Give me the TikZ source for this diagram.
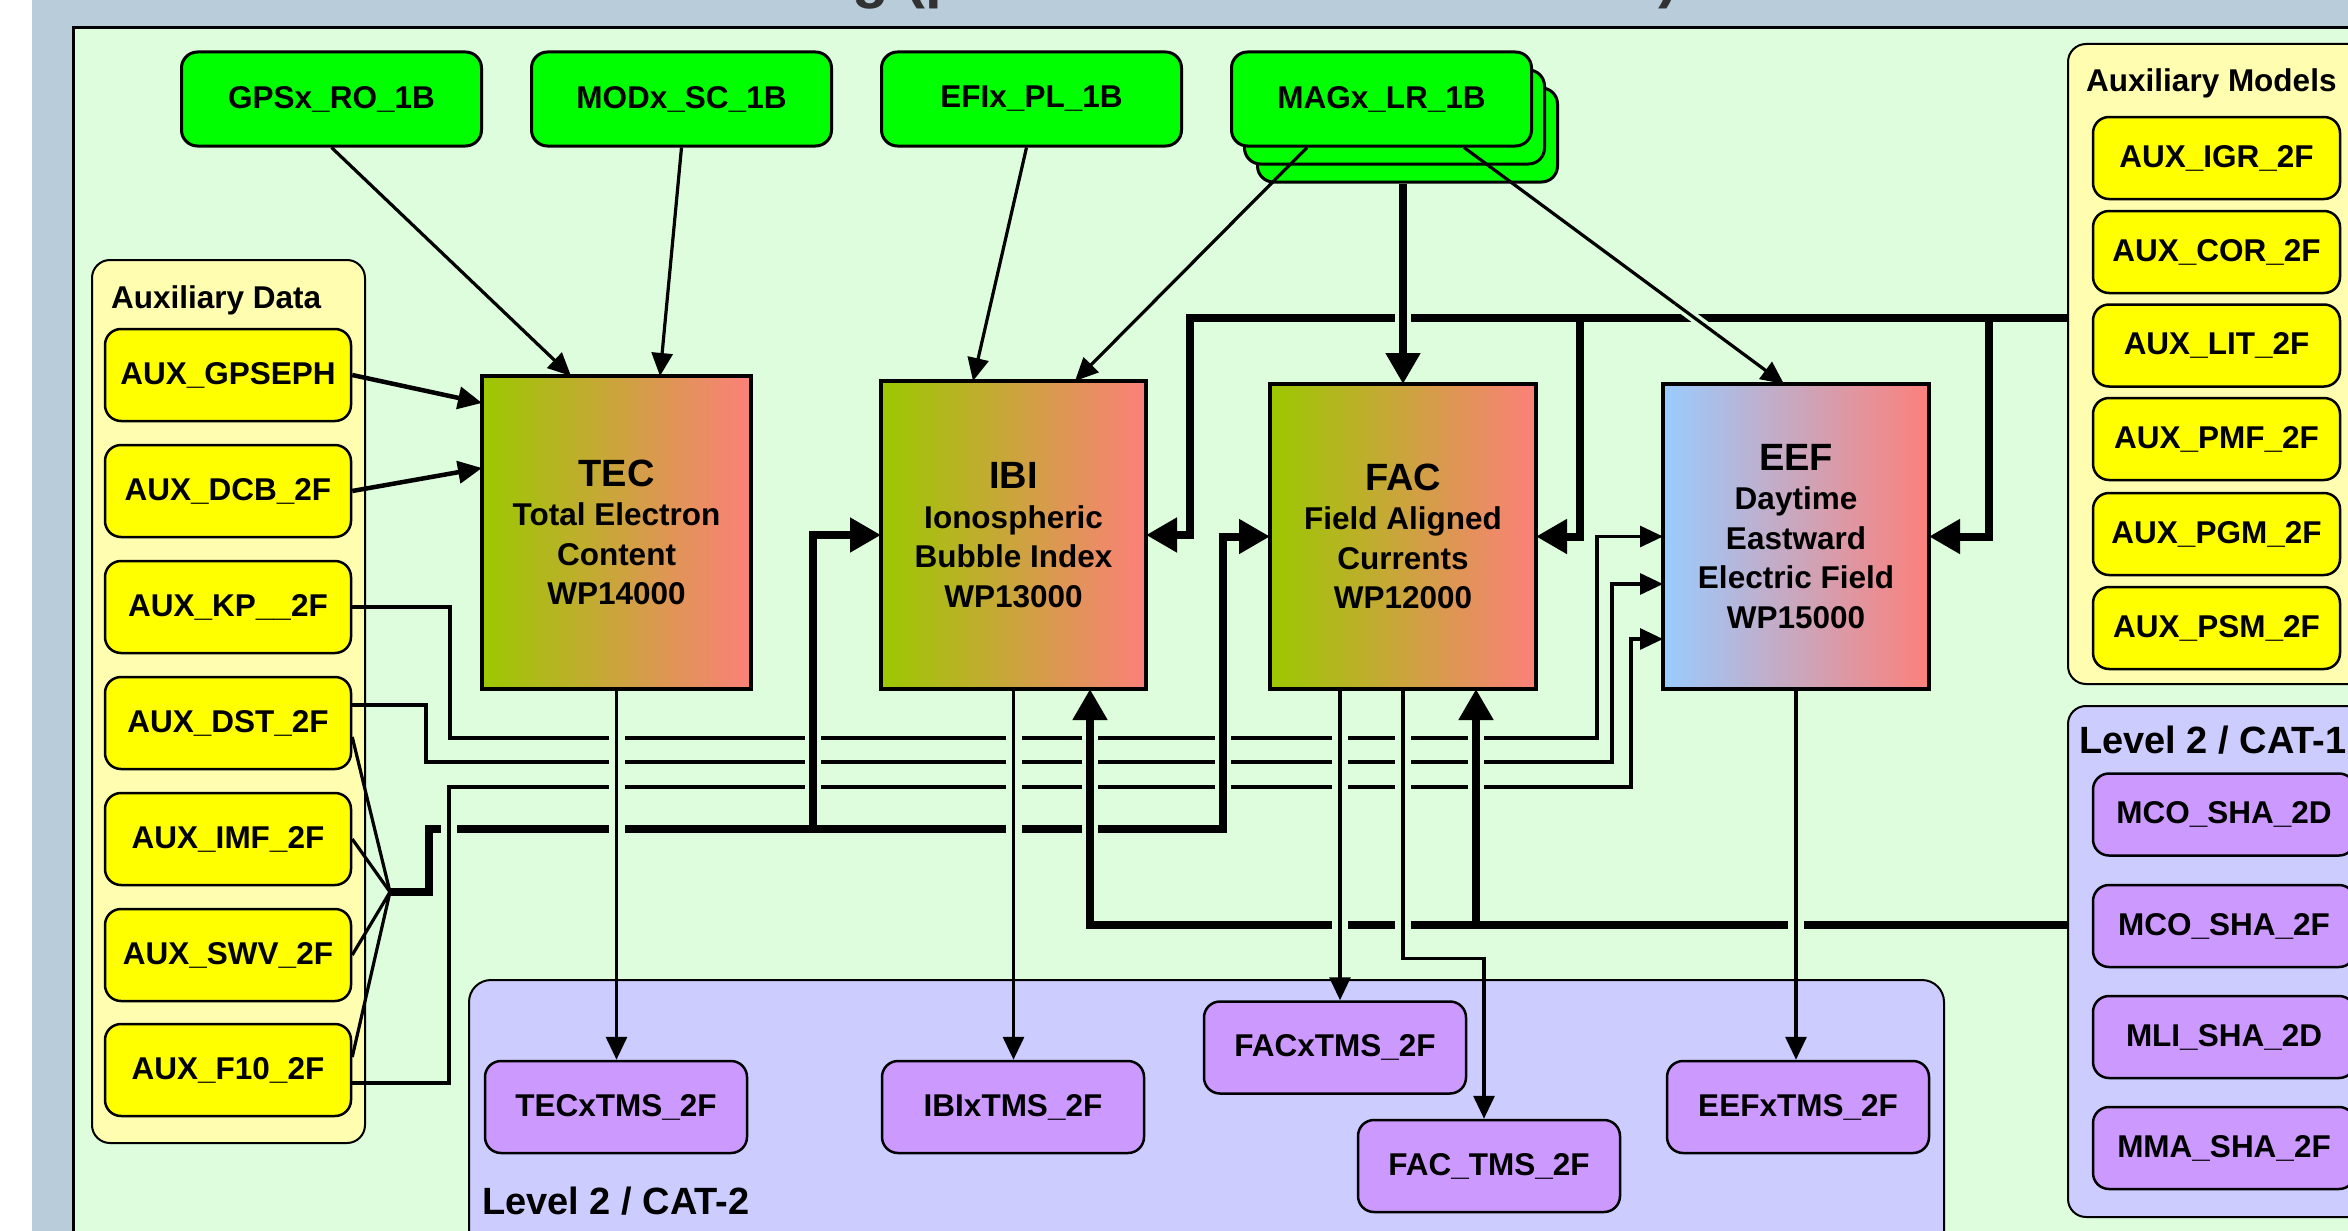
\documentclass[tikz,border=0pt]{standalone}
\usepackage{fontspec}
\setmainfont{Liberation Sans}
\usetikzlibrary{arrows.meta,calc}
\definecolor{bgblue}{RGB}{184,204,218}
\definecolor{bggreen}{RGB}{221,253,221}
\definecolor{boxgreen}{RGB}{0,255,0}
\definecolor{boxyellow}{RGB}{255,255,0}
\definecolor{panelyellow}{RGB}{255,253,176}
\definecolor{panellav}{RGB}{204,204,255}
\definecolor{boxpurple}{RGB}{204,153,255}
\definecolor{gradgreen}{RGB}{155,200,0}
\definecolor{gradred}{RGB}{252,128,122}
\definecolor{gradblue}{RGB}{153,204,255}
\definecolor{titlegray}{RGB}{50,50,50}
\newcommand\mylbl{\bfseries\fontsize{31.5}{36}\selectfont}
\newcommand\mycat{\bfseries\fontsize{38}{40}\selectfont}
\newcommand\myproc{\bfseries\fontsize{31.5}{39.5}\selectfont}
\newcommand\myptitle{\fontsize{38}{39.5}\selectfont}
\begin{document}
\begin{tikzpicture}[x=1pt,y=-1pt,
  rbox/.style={draw=black, line width=3pt, rounded corners=16pt, inner sep=0pt, font=\mylbl},
  gbox/.style={rbox, fill=boxgreen, minimum width=300pt, minimum height=94pt},
  ybox/.style={rbox, line width=2.5pt, fill=boxyellow, minimum width=246pt, minimum height=92pt},
  mbox/.style={rbox, line width=2.5pt, fill=boxyellow, minimum width=247pt, minimum height=82pt},
  pbox/.style={rbox, line width=2.5pt, fill=boxpurple, minimum width=262pt, minimum height=92pt},
  cbox/.style={pbox, minimum height=82pt},
  proc/.style={draw=black, line width=4pt, inner sep=0pt, outer sep=0pt, align=center, font=\myproc, right color=gradred},
  panel/.style={draw=black, line width=2pt, rounded corners=18pt, inner sep=0pt, anchor=north west},
  hdr/.style={anchor=base west, inner sep=0pt, font=\mylbl},
  cathdr/.style={anchor=base west, inner sep=0pt, font=\mycat},
  thinline/.style={line width=3.2pt},
  thinarrow/.style={line width=3.2pt, -{Triangle[length=23pt,width=21pt]}},
  medarrow/.style={line width=4.5pt, -{Triangle[length=24pt,width=22pt]}},
  thickline/.style={line width=8pt},
  thickarrow/.style={line width=8pt, -{Triangle[length=31pt,width=33pt]}},
  bridge/.style={draw=bggreen, line width=16pt}
]
\useasboundingbox (0,0) rectangle (2348,1231);
\clip (0,0) rectangle (2348,1231);
% backgrounds
\fill[white] (0,0) rectangle (32,1231);
\fill[bgblue] (32,0) rectangle (2348,1231);
\node[anchor=base west, inner sep=0pt, text=titlegray, font=\bfseries\fontsize{60}{60}\selectfont] (ttla) at (852,-3) {g (p};
\node[anchor=base west, inner sep=0pt, text=titlegray, font=\bfseries\fontsize{60}{60}\selectfont] (ttlb) at (1658,-3) {)};
\draw[fill=bggreen, line width=3pt] (73,28) rectangle (2420,1300);

% panels
\node[panel, fill=panelyellow, minimum width=273pt, minimum height=883pt] (auxd) at (91,259) {};
\node[hdr] (auxdt) at (111,308) {Auxiliary Data};
\node[panel, fill=panelyellow, minimum width=340pt, minimum height=640pt] (auxm) at (2067,43) {};
\node[hdr] (auxmt) at (2086,92) {Auxiliary Models};
\node[panel, fill=panellav, minimum width=340pt, minimum height=511pt] (cat1) at (2067,705) {};
\node[cathdr] (cat1t) at (2079,753) {Level 2 / CAT-1};
\node[panel, fill=panellav, minimum width=1475pt, minimum height=330pt, rounded corners=22pt] (cat2) at (468,979) {};
\node[cathdr] (cat2t) at (482,1214) {Level 2 / CAT-2};

% top inputs
\node[gbox] (gps) at (331.5,99) {GPSx\_RO\_1B};
\node[gbox] (mod) at (681.5,99) {MODx\_SC\_1B};
\node[gbox] (efi) at (1031.5,99) {EFIx\_PL\_1B};
\node[gbox] (mag3) at (1407.5,135) {};
\node[gbox] (mag2) at (1394.5,117) {};
\node[gbox] (mag) at (1381.5,99) {MAGx\_LR\_1B};

% auxiliary data
\node[ybox] (gpseph) at (228,375) {AUX\_GPSEPH};
\node[ybox] (dcb) at (228,491) {AUX\_DCB\_2F};
\node[ybox] (kp) at (228,607) {AUX\_KP\_\_2F};
\node[ybox] (dst) at (228,723) {AUX\_DST\_2F};
\node[ybox] (imf) at (228,839) {AUX\_IMF\_2F};
\node[ybox] (swv) at (228,955) {AUX\_SWV\_2F};
\node[ybox] (f10) at (228,1070) {AUX\_F10\_2F};

% auxiliary models
\node[mbox] (igr) at (2216.5,158) {AUX\_IGR\_2F};
\node[mbox] (cor) at (2216.5,252) {AUX\_COR\_2F};
\node[mbox] (lit) at (2216.5,345.5) {AUX\_LIT\_2F};
\node[mbox] (pmf) at (2216.5,439) {AUX\_PMF\_2F};
\node[mbox] (pgm) at (2216.5,534) {AUX\_PGM\_2F};
\node[mbox] (psm) at (2216.5,628) {AUX\_PSM\_2F};

% CAT-1
\node[cbox] (mco2d) at (2224,814.5) {MCO\_SHA\_2D};
\node[cbox] (mco2f) at (2224,926) {MCO\_SHA\_2F};
\node[cbox] (mli) at (2224,1037) {MLI\_SHA\_2D};
\node[cbox] (mma) at (2224,1148) {MMA\_SHA\_2F};

% processors
\node[proc, left color=gradgreen, minimum width=269pt, minimum height=313pt] (tec) at (616.5,532.5)
  {{\myptitle TEC}\\Total Electron\\Content\\WP14000};
\node[proc, left color=gradgreen, minimum width=265pt, minimum height=308pt] (ibi) at (1013.5,535)
  {{\myptitle IBI}\\Ionospheric\\Bubble Index\\WP13000};
\node[proc, left color=gradgreen, minimum width=266pt, minimum height=305pt] (fac) at (1403,536.5)
  {{\myptitle FAC}\\Field Aligned\\Currents\\WP12000};
\node[proc, left color=gradblue, minimum width=266pt, minimum height=305pt] (eef) at (1796,536.5)
  {{\myptitle EEF}\\Daytime\\Eastward\\Electric Field\\WP15000};

% CAT-2 outputs
\node[pbox] (tecx) at (616,1107) {TECxTMS\_2F};
\node[pbox] (ibix) at (1013,1107) {IBIxTMS\_2F};
\node[pbox] (facx) at (1335,1047.5) {FACxTMS\_2F};
\node[pbox] (fact) at (1489,1166) {FAC\_TMS\_2F};
\node[pbox] (eefx) at (1798,1107) {EEFxTMS\_2F};

% coordinates
\coordinate (me0) at ($(mag.south east)+(-69,0)$);
\coordinate (me1) at ($(eef.north)+(-12,0)$);
\coordinate (tb0) at (2067,318);
\coordinate (tb1) at (1190,318);
\coordinate (tb2) at (1580,318);
\coordinate (tb3) at (1989,318);
\coordinate (fan) at (390,892);
\coordinate (lb0) at (429,829);
\coordinate (lb1) at (813,829);
\coordinate (lb2) at (1223,829);
\coordinate (bb0) at (2067,925);
\coordinate (ibin) at ($(ibi.south west)+(209,0)$);
\coordinate (facin) at ($(fac.south west)+(206,0)$);
\coordinate (k1) at (450,738);
\coordinate (k2) at (1597,738);
\coordinate (d1) at (426,762);
\coordinate (d2) at (1612,762);
\coordinate (f1) at (449,787);
\coordinate (f2) at (1631,787);
\coordinate (fo1) at ($(fac.south west)+(70,0)$);

% top inputs
\draw[thinarrow] (gps.south) -- ($(tec.north west)+(89,0)$);
\draw[thinarrow] (mod.south) -- ($(tec.north)+(43.5,0)$);
\draw[medarrow] (gpseph.east) -- ($(tec.west)+(0,-129.5)$);
\draw[medarrow] (dcb.east) -- ($(tec.west)+(0,-64.5)$);
\draw[thinarrow] ($(efi.south)+(-5,0)$) -- ($(ibi.north west)+(92,0)$);
\draw[thinarrow] ($(mag.south west)+(77,0)$) -- ($(ibi.north west)+(194,0)$);
\draw[thickarrow] (fac.north |- mag3.south) -- (fac.north);
\draw[thinarrow] (me0) -- (me1);

% top bus (auxiliary models)
\draw[thickarrow] (tb0) -- (tb1) |- (ibi.east);
\draw[thickarrow] (tb2) |- (fac.east);
\draw[thickarrow] (tb3) |- (eef.east);

% auxiliary data thin lines to EEF
\draw[thinarrow] (kp.east) -| (k1) -- (k2) |- (eef.west);
\draw[thinarrow] ($(dst.east)+(0,-18)$) -| (d1) -- (d2) |- ($(eef.west)+(0,47.5)$);
\draw[thinarrow] ($(f10.east)+(0,13)$) -| (f1) -- (f2) |- ($(eef.west)+(0,102.5)$);

% fan and lower bus
\draw[thinline] ($(dst.east)+(0,14)$) -- (fan);
\draw[thinline] (imf.east) -- (fan);
\draw[thinline] (swv.east) -- (fan);
\draw[thinline] ($(f10.east)+(0,-13)$) -- (fan);
\draw[thickarrow] (fan) -| (lb0) -- (lb2) |- (fac.west);
\draw[thickarrow] (lb1) |- (ibi.west);

% CAT-1 bus
\draw[thickarrow] (bb0) -| (ibin);
\draw[thickarrow] (facin |- bb0) -- (facin);

% outputs
\draw[thinarrow] (tec.south) -- (tec.south |- tecx.north);
\draw[thinarrow] (ibi.south) -- (ibi.south |- ibix.north);
\draw[thinarrow] (fo1) -- (fo1 |- facx.north);
\draw[thinarrow] (fac.south) |- ($(fact.north)+(-5,-160)$) -- ($(fact.north)+(-5,0)$);
\draw[thinarrow] (eef.south) -- (eef.south |- eefx.north);

% line-crossing bridges
\foreach \cc in {tec.south,ibi.south,fo1,fac.south}{
  \draw[bridge] (\cc |- 0,722) -- (\cc |- 0,803);
  \draw[thinline] (\cc |- 0,722) -- (\cc |- 0,803);
}
\foreach \cc in {lb1,ibin,lb2,facin}{
  \draw[bridge] (\cc |- 0,722) -- (\cc |- 0,803);
  \draw[thickline] (\cc |- 0,722) -- (\cc |- 0,803);
}
\foreach \cc in {f1,tec.south,ibi.south}{
  \draw[bridge] (\cc |- 0,815) -- (\cc |- 0,843);
  \draw[thinline] (\cc |- 0,815) -- (\cc |- 0,843);
}
\draw[bridge] (ibin |- 0,815) -- (ibin |- 0,843);
\draw[thickline] (ibin |- 0,815) -- (ibin |- 0,843);
\foreach \cc in {fo1,fac.south,eef.south}{
  \draw[bridge] (\cc |- 0,911) -- (\cc |- 0,939);
  \draw[thinline] (\cc |- 0,911) -- (\cc |- 0,939);
}
\draw[bridge] (fac.north |- 0,304) -- (fac.north |- 0,332);
\draw[thickline] (fac.north |- 0,304) -- (fac.north |- 0,332);
\draw[draw=bggreen, line width=10pt] ($(me0)!0.66!(me1)$) -- ($(me0)!0.79!(me1)$);
\draw[thinline] ($(me0)!0.66!(me1)$) -- ($(me0)!0.79!(me1)$);
\end{tikzpicture}
\end{document}
